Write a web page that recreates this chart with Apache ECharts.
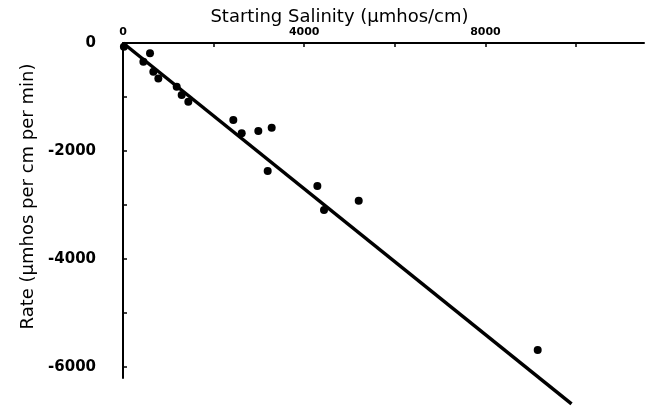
<!DOCTYPE html>
<html>
<head>
<meta charset="utf-8">
<script src="https://cdn.jsdelivr.net/npm/echarts@6/dist/echarts.min.js"></script>
<style>
html,body{margin:0;padding:0;background:#fff;}
#chart{width:650px;height:408px;}
</style>
</head>
<body>
<div id="chart"></div>
<script>
// Observed points
const salinity = [20, 450, 596, 670, 780, 1185, 1295, 1442, 2435, 2620, 2987, 3282, 3194, 4290, 4437, 5203, 9154];
const rate     = [-70, -345, -190, -530, -655, -808, -963, -1086, -1426, -1672, -1630, -1567, -2370, -2647, -3090, -2918, -5680];
// Fitted regression line end points
const fitX = [0, 9900];
const fitY = [0, -6680];
// Axis ticks and labels
const xTicks = [0, 2000, 4000, 6000, 8000, 10000];
const xLabels = [0, 4000, 8000];
const yTicks = [0, -1000, -2000, -3000, -4000, -5000, -6000];
const yLabels = [0, -2000, -4000, -6000];

const font = 'DejaVu Sans';
const chart = echarts.init(document.getElementById('chart'), null, {renderer: 'canvas'});
chart.setOption({
  animation: false,
  backgroundColor: '#fff',
  grid: {left: 123, top: 43, width: 521, height: 335, containLabel: false, outerBoundsMode: 'none'},
  xAxis: {
    type: 'value', position: 'top', min: 0, max: 11500,
    name: 'Starting Salinity (µmhos/cm)', nameLocation: 'middle', nameGap: 17, nameMoveOverlap: false,
    nameTextStyle: {fontFamily: font, fontSize: 18, color: '#000', padding: [0, 88, 0, 0]},
    axisLine: {show: true, onZero: false, lineStyle: {color: '#000', width: 2}},
    axisTick: {show: true, inside: true, length: 4, customValues: xTicks, lineStyle: {color: '#000', width: 1.5}},
    axisLabel: {customValues: xLabels, margin: 5, fontFamily: font, fontWeight: 'bold', fontSize: 11, color: '#000',
      formatter: v => String(v)},
    splitLine: {show: false}
  },
  yAxis: {
    type: 'value', min: -6200, max: 0,
    name: 'Rate (µmhos per cm per min)', nameLocation: 'middle', nameGap: 86, nameRotate: 90, nameMoveOverlap: false,
    nameTextStyle: {fontFamily: font, fontSize: 18, color: '#000', padding: [0, 0, 0, 28]},
    axisLine: {show: true, onZero: false, lineStyle: {color: '#000', width: 2}},
    axisTick: {show: true, inside: true, length: 4, customValues: yTicks, lineStyle: {color: '#000', width: 1.5}},
    axisLabel: {customValues: yLabels, margin: 27, fontFamily: font, fontWeight: 'bold', fontSize: 15, color: '#000',
      formatter: v => String(v)},
    splitLine: {show: false}
  },
  series: [
    {
      type: 'line', data: fitX.map((x, i) => [x, fitY[i]]), showSymbol: false, symbol: 'none',
      clip: false, lineStyle: {color: '#000', width: 3.5}, z: 2
    },
    {
      type: 'scatter', data: salinity.map((x, i) => [x, rate[i]]), symbol: 'circle', symbolSize: 8,
      clip: false, itemStyle: {color: '#000', opacity: 1}, z: 3
    }
  ]
});
</script>
</body>
</html>
